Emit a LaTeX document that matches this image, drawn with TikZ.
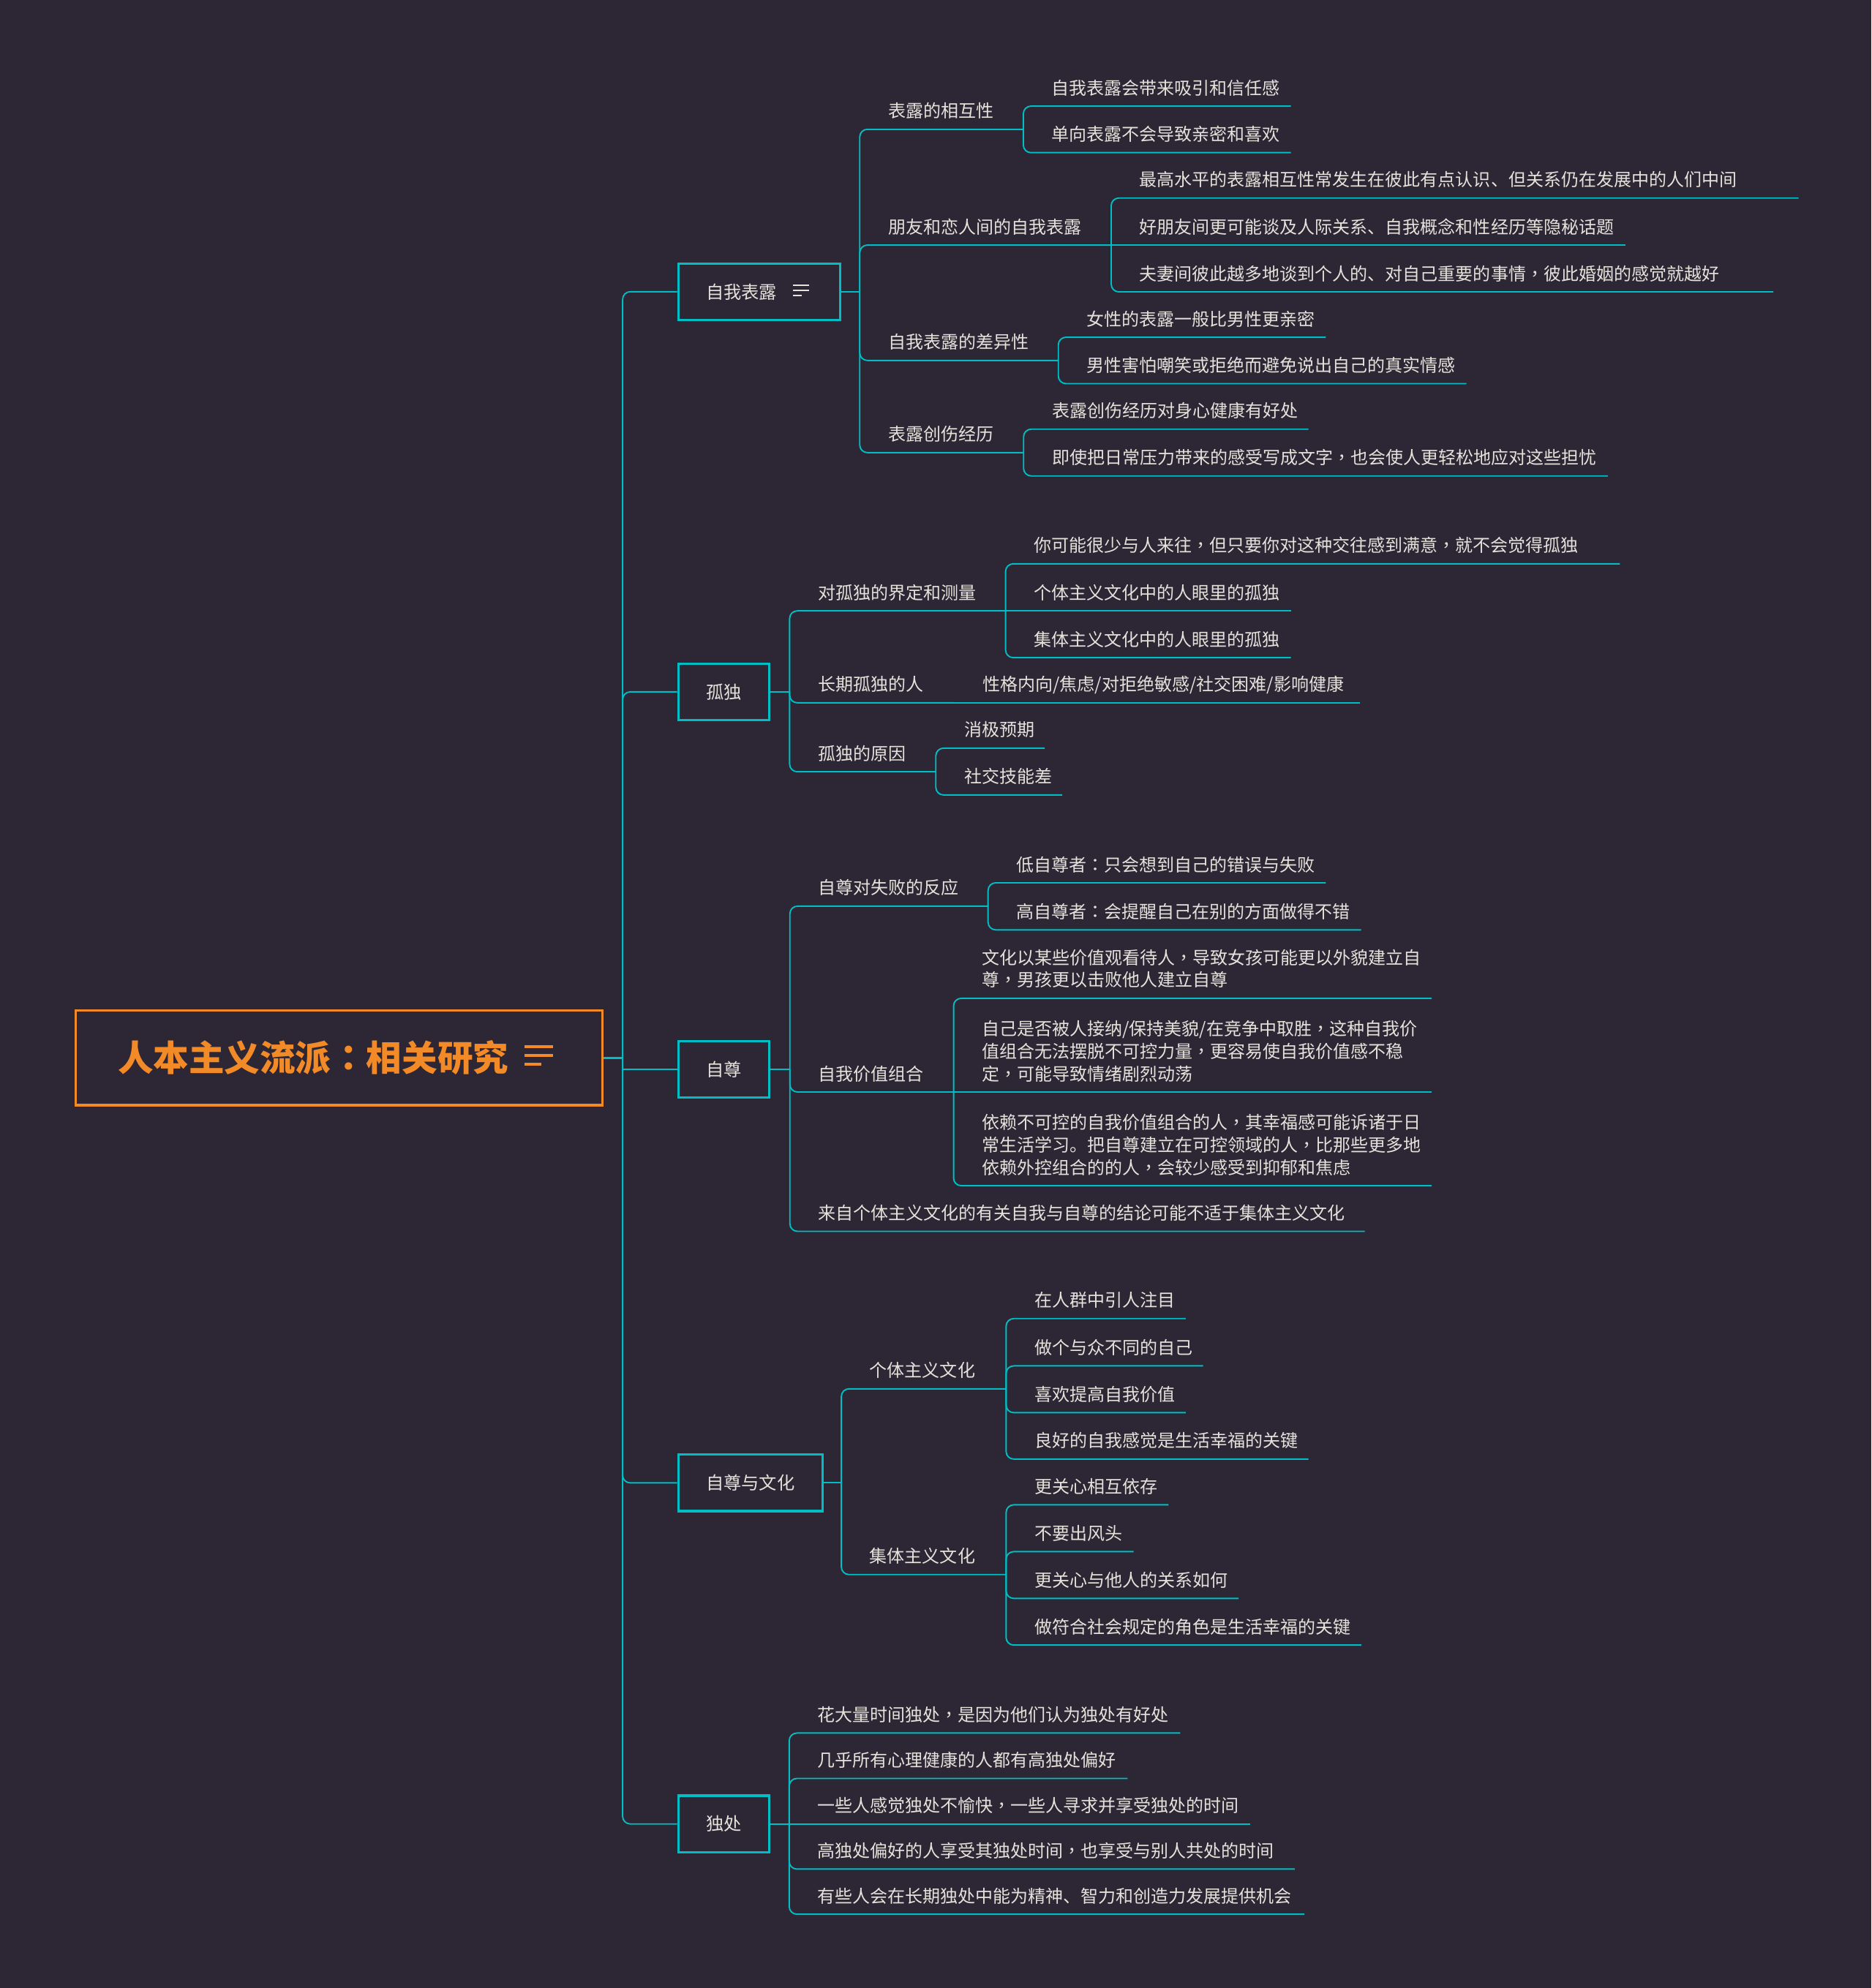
\documentclass[tikz,border=0pt]{standalone}
\usepackage{fontspec}
\newfontfamily\cjk{Noto Sans CJK SC}
\newfontfamily\cjktc{Noto Sans CJK TC}
\definecolor{bg}{HTML}{2D2735}
\definecolor{teal1}{HTML}{00BEC4}
\definecolor{txt}{HTML}{E4E2DB}
\definecolor{org}{HTML}{F28A28}
\newcommand\lf{\rule[-3pt]{0pt}{11pt}}
\newcommand\zc{{\cjktc ，}}
\newcommand\zk{{\cjktc ：}}
\newcommand\leaffont{\cjk\fontsize{13.85pt}{17.8pt}\selectfont}
\newcommand\boxfont{\cjk\fontsize{14pt}{17pt}\selectfont}
\newcommand\rootfont{\cjk\bfseries\fontsize{28pt}{32pt}\selectfont}
% leaf: name, spine x, underline y, end x, junction, text
\newcommand\lv[6]{%
  \node[leaf] (#1) at (#2+22.4,#3-6.2) {#6};
  \coordinate (#1e) at (#4,#3);
  \draw[conn] (#5) |- (#1e);}
% straight leaf (same height as its junction)
\newcommand\ls[6]{%
  \node[leaf] (#1) at (#2+22.4,#3-6.2) {#6};
  \coordinate (#1e) at (#4,#3);
  \draw[conn] (#5) -- (#1e);}
% sub topic: name, spine x, underline y, child spine x, junction, text
\newcommand\sv[6]{%
  \node[leaf] (#1) at (#2+22.4,#3-6.2) {#6};
  \coordinate (#1J) at (#4,#3);
  \draw[conn] (#5) |- (#1J);}
\tikzset{
  conn/.style={draw=teal1, line width=1.1pt, rounded corners=6pt},
  leaf/.style={anchor=south west, inner sep=0pt, outer sep=0pt, text=txt,
    font=\leaffont, align=left, execute at begin node=\lf},
  topic/.style={draw=teal1, line width=1.9pt, anchor=west, minimum height=44.6pt,
    inner xsep=21.8pt, inner ysep=0pt, text=txt, font=\boxfont,
    text height=12.3pt, text depth=1.7pt},
  rootbox/.style={draw=org, line width=1.8pt, minimum width=415.5pt,
    minimum height=74.5pt, inner sep=0pt, text=org, font=\rootfont,
    text height=24.6pt, text depth=3.4pt},
  icon/.style={draw=txt, line width=1.15pt},
  rooticon/.style={draw=org, line width=2.3pt},
}
\begin{document}
\begin{tikzpicture}[x=1pt,y=-1pt]
\useasboundingbox (0,0) rectangle (1475.7,1568);
\fill[bg] (0,0) rectangle (1475.7,1568);

% root
\node[rootbox] (root) at (267.4,834.4) {人本主义流派\zk 相关研究\kern40.8pt};
\draw[rooticon] ([shift={(146.4pt,8.7pt)}]root.center) -- ++(22.5pt,0);
\draw[rooticon] ([shift={(146.4pt,2pt)}]root.center) -- ++(22.5pt,0);
\draw[rooticon] ([shift={(146.4pt,-5.1pt)}]root.center) -- ++(13.3pt,0);

% main topics
\node[topic] (b1) at (534,230.1) {自我表露\kern28.1pt};
\draw[icon] ([shift={(-38.5pt,5pt)}]b1.east) -- ++(12.7pt,0);
\draw[icon] ([shift={(-38.5pt,1.1pt)}]b1.east) -- ++(12.7pt,0);
\draw[icon] ([shift={(-38.5pt,-3pt)}]b1.east) -- ++(7.4pt,0);
\node[topic] (b2) at (534,545.7) {孤独};
\node[topic] (b3) at (534,843.5) {自尊};
\node[topic] (b4) at (534,1169.6) {自尊与文化};
\node[topic] (b5) at (534,1438.6) {独处};

\coordinate (M) at (491,834.4);
\draw[conn, line width=1.6pt] (root.east) -- (M);
\draw[conn] (M) |- (b1.west);
\draw[conn] (M) |- (b2.west);
\draw[conn, sharp corners] (M) |- (b3.west);
\draw[conn] (M) |- (b4.west);
\draw[conn] (M) |- (b5.west);

% ---- group 1
\coordinate (J1) at (678,230.1);
\draw[conn] (b1.east) -- (J1);
\sv{s11}{678}{102}{807}{J1}{表露的相互性}
\lv{l111}{807}{83.7}{1018}{s11J}{自我表露会带来吸引和信任感}
\lv{l112}{807}{120.4}{1018}{s11J}{单向表露不会导致亲密和喜欢}
\sv{s12}{678}{193.3}{876.3}{J1}{朋友和恋人间的自我表露}
\lv{l121}{876.3}{156.2}{1418.4}{s12J}{最高水平的表露相互性常发生在彼此有点认识、但关系仍在发展中的人们中间}
\ls{l122}{876.3}{193.3}{1281.6}{s12J}{好朋友间更可能谈及人际关系、自我概念和性经历等隐秘话题}
\lv{l123}{876.3}{230.2}{1398.5}{s12J}{夫妻间彼此越多地谈到个人的、对自己重要的事情\zc 彼此婚姻的感觉就越好}
\sv{s13}{678}{284.3}{834.6}{J1}{自我表露的差异性}
\lv{l131}{834.6}{266}{1045.6}{s13J}{女性的表露一般比男性更亲密}
\lv{l132}{834.6}{302.6}{1156.4}{s13J}{男性害怕嘲笑或拒绝而避免说出自己的真实情感}
\sv{s14}{678}{357}{807.2}{J1}{表露创伤经历}
\lv{l141}{807.2}{338.5}{1031.9}{s14J}{表露创伤经历对身心健康有好处}
\lv{l142}{807.2}{375.4}{1267.9}{s14J}{即使把日常压力带来的感受写成文字\zc 也会使人更轻松地应对这些担忧}

% ---- group 2
\coordinate (J2) at (622.7,545.7);
\draw[conn] (b2.east) -- (J2);
\sv{s21}{622.7}{481.8}{793}{J2}{对孤独的界定和测量}
\lv{l211}{793}{444.7}{1277.4}{s21J}{你可能很少与人来往\zc 但只要你对这种交往感到满意\zc 就不会觉得孤独}
\ls{l212}{793}{481.8}{1018}{s21J}{个体主义文化中的人眼里的孤独}
\lv{l213}{793}{518.7}{1018}{s21J}{集体主义文化中的人眼里的孤独}
\sv{s22}{622.7}{554.3}{752.5}{J2}{长期孤独的人}
\ls{l221}{752.5}{554.3}{1072.2}{s22J}{性格内向/焦虑/对拒绝敏感/社交困难/影响健康}
\sv{s23}{622.7}{608.7}{738}{J2}{孤独的原因}
\lv{l231}{738}{590.1}{823.8}{s23J}{消极预期}
\lv{l232}{738}{627}{837.7}{s23J}{社交技能差}

% ---- group 3
\coordinate (J3) at (622.9,843.5);
\draw[conn] (b3.east) -- (J3);
\sv{s31}{622.9}{714.7}{779.2}{J3}{自尊对失败的反应}
\lv{l311}{779.2}{696.3}{1045.5}{s31J}{低自尊者\zk 只会想到自己的错误与失败}
\lv{l312}{779.2}{733.4}{1073.4}{s31J}{高自尊者\zk 会提醒自己在别的方面做得不错}
\sv{s32}{622.9}{861.3}{752}{J3}{自我价值组合}
\lv{l321}{752}{787.4}{1128.9}{s32J}{文化以某些价值观看待人\zc 导致女孩可能更以外貌建立自\\\lf 尊\zc 男孩更以击败他人建立自尊}
\ls{l322}{752}{861.3}{1128.9}{s32J}{自己是否被人接纳/保持美貌/在竞争中取胜\zc 这种自我价\\\lf 值组合无法摆脱不可控力量\zc 更容易使自我价值感不稳\\\lf 定\zc 可能导致情绪剧烈动荡}
\lv{l323}{752}{935.2}{1128.9}{s32J}{依赖不可控的自我价值组合的人\zc 其幸福感可能诉诸于日\\\lf 常生活学习。把自尊建立在可控领域的人\zc 比那些更多地\\\lf 依赖外控组合的的人\zc 会较少感受到抑郁和焦虑}
\lv{l33}{622.9}{971.2}{1076.3}{J3}{来自个体主义文化的有关自我与自尊的结论可能不适于集体主义文化}

% ---- group 4
\coordinate (J4) at (663.5,1169.6);
\draw[conn] (b4.east) -- (J4);
\sv{s41}{663.5}{1095.4}{793.4}{J4}{个体主义文化}
\lv{l411}{793.4}{1040}{935.1}{s41J}{在人群中引人注目}
\lv{l412}{793.4}{1077.3}{948.8}{s41J}{做个与众不同的自己}
\lv{l413}{793.4}{1114.2}{935.1}{s41J}{喜欢提高自我价值}
\lv{l414}{793.4}{1150.8}{1031.9}{s41J}{良好的自我感觉是生活幸福的关键}
\sv{s42}{663.5}{1241.9}{793.4}{J4}{集体主义文化}
\lv{l421}{793.4}{1186.9}{921.5}{s42J}{更关心相互依存}
\lv{l422}{793.4}{1223.8}{893.9}{s42J}{不要出风头}
\lv{l423}{793.4}{1260.7}{976.7}{s42J}{更关心与他人的关系如何}
\lv{l424}{793.4}{1297.5}{1073.5}{s42J}{做符合社会规定的角色是生活幸福的关键}

% ---- group 5
\coordinate (J5) at (622.4,1438.6);
\draw[conn] (b5.east) -- (J5);
\lv{l51}{622.4}{1366.9}{930.8}{J5}{花大量时间独处\zc 是因为他们认为独处有好处}
\lv{l52}{622.4}{1402.7}{889.2}{J5}{几乎所有心理健康的人都有高独处偏好}
\ls{l53}{622.4}{1438.6}{986}{J5}{一些人感觉独处不愉快\zc 一些人寻求并享受独处的时间}
\lv{l54}{622.4}{1474.2}{1021}{J5}{高独处偏好的人享受其独处时间\zc 也享受与别人共处的时间}
\lv{l55}{622.4}{1509.8}{1028.7}{J5}{有些人会在长期独处中能为精神、智力和创造力发展提供机会}
\end{tikzpicture}
\end{document}
